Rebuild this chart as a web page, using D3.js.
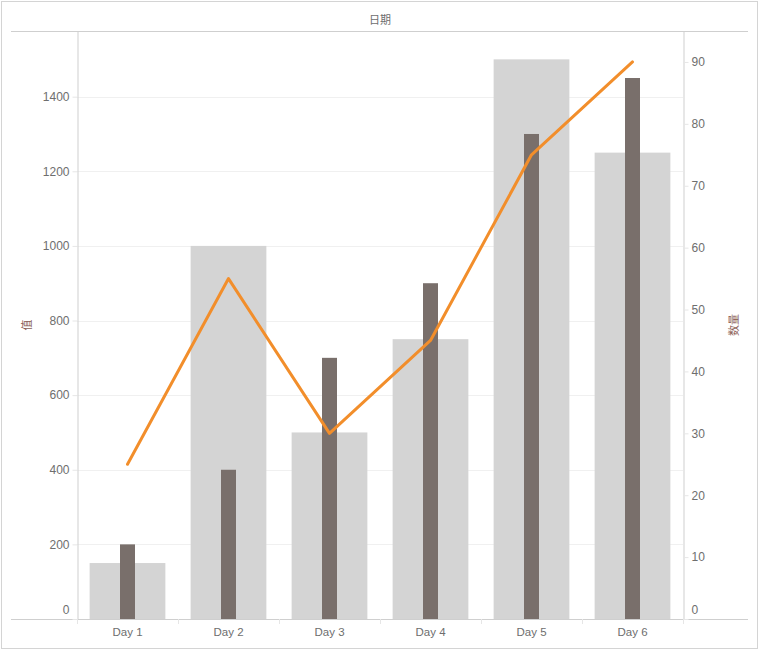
<!DOCTYPE html>
<html>
<head>
<meta charset="utf-8">
<script src="https://cdn.jsdelivr.net/npm/d3@7"></script>
<style>
  body { margin: 0; background: #fff; }
  svg { display: block; font-family: "Noto Sans", "Noto Sans CJK SC", sans-serif; }
</style>
</head>
<body>
<svg id="chart"></svg>
<script>
const days = ['Day 1', 'Day 2', 'Day 3', 'Day 4', 'Day 5', 'Day 6']
const wideValues = [150, 1000, 500, 750, 1500, 1250]   // light gray bars, left axis
const narrowValues = [200, 400, 700, 900, 1300, 1450]  // dark bars, left axis
const lineValues = [25, 55, 30, 45, 75, 90]            // orange line, right axis
const leftTicks = [0, 200, 400, 600, 800, 1000, 1200, 1400]
const rightTicks = [0, 10, 20, 30, 40, 50, 60, 70, 80, 90]

const width = 759
const height = 650
const marginTop = 31
const marginBottom = 31   // baseline at y = 619
const marginLeft = 77
const marginRight = 76    // right axis at x = 683
const txtColor = '#6e6e6e'
const titleColor = '#8b5e55'
const ruleColor = '#cfcfcf'

const svg = d3.select('#chart')
  .attr('width', width)
  .attr('height', height)
  .attr('viewBox', [0, 0, width, height])

const y0 = height - marginBottom
const xScale = d3.scaleBand(days, [marginLeft, width - marginRight]).padding(0)
const yLeft = d3.scaleLinear([0, 1576], [y0, marginTop])
const yRight = d3.scaleLinear([0, 95], [y0, marginTop])

// outer frame
svg.append('rect')
  .attr('x', 1.5).attr('y', 1.5)
  .attr('width', width - 3).attr('height', height - 3)
  .attr('fill', 'none').attr('stroke', '#d4d4d4')

// gridlines
svg.append('g')
  .selectAll('line')
  .data(leftTicks.filter(d => d > 0))
  .join('line')
    .attr('x1', marginLeft).attr('x2', width - marginRight)
    .attr('y1', d => Math.round(yLeft(d)) + 0.5).attr('y2', d => Math.round(yLeft(d)) + 0.5)
    .attr('stroke', '#f0f0f0')

// bars
const bw = xScale.bandwidth()
svg.append('g')
  .selectAll('rect')
  .data(days)
  .join('rect')
    .attr('x', (d, i) => xScale(d) + bw * 0.125)
    .attr('width', bw * 0.75)
    .attr('y', (d, i) => yLeft(wideValues[i]))
    .attr('height', (d, i) => y0 - yLeft(wideValues[i]))
    .attr('fill', '#d4d4d4')

svg.append('g')
  .selectAll('rect')
  .data(days)
  .join('rect')
    .attr('x', (d, i) => xScale(d) + bw / 2 - 7.5)
    .attr('width', 15)
    .attr('y', (d, i) => yLeft(narrowValues[i]))
    .attr('height', (d, i) => y0 - yLeft(narrowValues[i]))
    .attr('fill', '#796f6b')

// line
const line = d3.line()
  .x((d, i) => xScale(days[i]) + bw / 2)
  .y(d => yRight(d))
svg.append('path')
  .attr('fill', 'none')
  .attr('stroke', '#f28e2b')
  .attr('stroke-width', 3)
  .attr('stroke-linecap', 'round')
  .attr('stroke-linejoin', 'round')
  .attr('d', line(lineValues))

// frame rules
svg.append('line')
  .attr('x1', 11).attr('x2', 748).attr('y1', marginTop + 0.5).attr('y2', marginTop + 0.5)
  .attr('stroke', ruleColor)
svg.append('line')
  .attr('x1', 11).attr('x2', 748).attr('y1', y0 + 0.5).attr('y2', y0 + 0.5)
  .attr('stroke', ruleColor)

// left axis
const leftAxis = d3.axisLeft(yLeft).tickValues(leftTicks).tickFormat(d3.format('d'))
  .tickSize(5).tickPadding(3).tickSizeOuter(0)
svg.append('g')
  .attr('transform', `translate(${marginLeft + 0.5},0)`)
  .call(leftAxis)
  .call(g => g.select('.domain').attr('stroke', ruleColor))
  .call(g => g.selectAll('.tick line').attr('stroke', '#e6e6e6'))
  .call(g => g.selectAll('.tick text')
      .attr('fill', txtColor).attr('font-size', 12)
      .attr('dy', d => d === 0 ? '-0.45em' : '0.32em'))

// right axis
const rightAxis = d3.axisRight(yRight).tickValues(rightTicks).tickFormat(d3.format('d'))
  .tickSize(5).tickPadding(3).tickSizeOuter(0)
svg.append('g')
  .attr('transform', `translate(${width - marginRight + 0.5},0)`)
  .call(rightAxis)
  .call(g => g.select('.domain').attr('stroke', ruleColor))
  .call(g => g.selectAll('.tick line').attr('stroke', '#e6e6e6'))
  .call(g => g.selectAll('.tick text')
      .attr('fill', txtColor).attr('font-size', 12)
      .attr('dy', d => d === 0 ? '-0.45em' : '0.32em'))

// bottom axis
const bottomAxis = d3.axisBottom(xScale).tickSize(0).tickPadding(9)
svg.append('g')
  .attr('transform', `translate(0,${y0})`)
  .call(bottomAxis)
  .call(g => g.select('.domain').remove())
  .call(g => g.selectAll('.tick text').attr('fill', txtColor).attr('font-size', 11.5))
  .call(g => g.selectAll('.sep')
      .data(d3.range(days.length + 1))
      .join('line')
        .attr('class', 'sep')
        .attr('x1', i => Math.round(marginLeft + i * bw) + 0.5)
        .attr('x2', i => Math.round(marginLeft + i * bw) + 0.5)
        .attr('y1', 0).attr('y2', 5)
        .attr('stroke', '#e6e6e6'))

// titles
svg.append('text')
  .attr('x', 380).attr('y', 24)
  .attr('text-anchor', 'middle')
  .attr('fill', txtColor)
  .attr('font-size', 11)
  .attr('font-family', '"Noto Sans CJK SC", sans-serif')
  .text('日期')

svg.append('text')
  .attr('transform', `translate(31,${(marginTop + y0) / 2}) rotate(-90)`)
  .attr('text-anchor', 'middle')
  .attr('fill', titleColor)
  .attr('font-size', 11)
  .attr('font-family', '"Noto Sans CJK SC", sans-serif')
  .text('值')

svg.append('text')
  .attr('transform', `translate(738,${(marginTop + y0) / 2}) rotate(-90)`)
  .attr('text-anchor', 'middle')
  .attr('fill', titleColor)
  .attr('font-size', 11)
  .attr('font-family', '"Noto Sans CJK SC", sans-serif')
  .text('数量')
</script>
</body>
</html>
